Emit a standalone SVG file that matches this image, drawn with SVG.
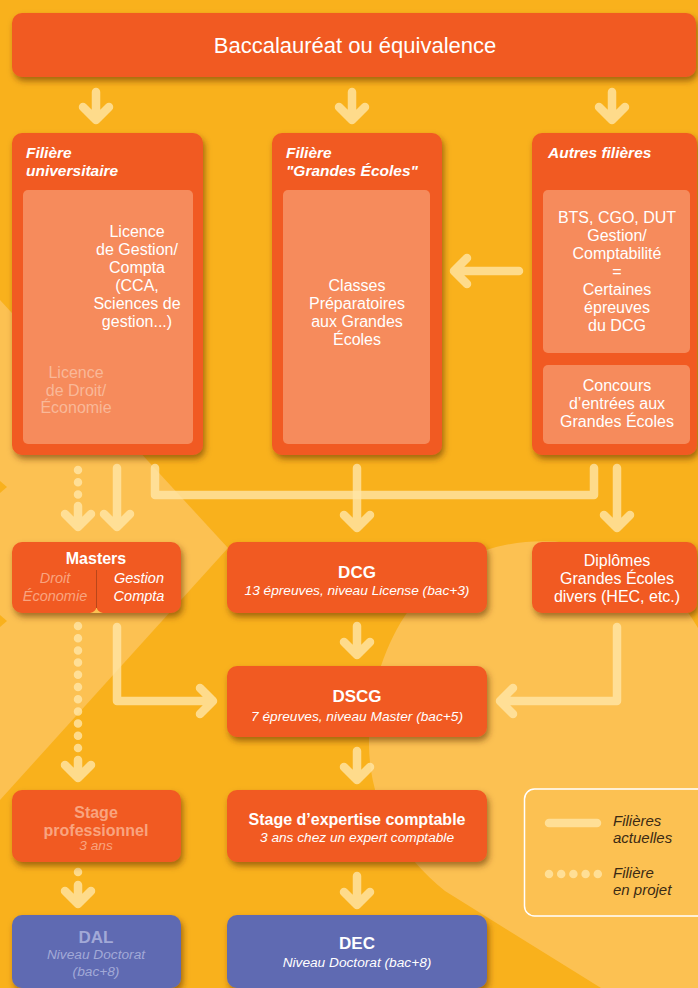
<svg xmlns="http://www.w3.org/2000/svg" width="698" height="988" viewBox="0 0 698 988">
<defs>
<filter id="sh" x="-10%" y="-15%" width="125%" height="145%">
<feDropShadow dx="2" dy="4" stdDeviation="3" flood-color="#5a2800" flood-opacity="0.55"/>
</filter>
<style>
.box{fill:#F15A22;filter:url(#sh)}
.blue{fill:#5E6BB2;filter:url(#sh)}
.panel{fill:#F68B5C}
text{font-family:"Liberation Sans",Arial,sans-serif;fill:#FFFFFF}
.c{text-anchor:middle}
.t{font-size:16px}
.b{font-weight:bold}
.i{font-style:italic}
.fo{fill:#F9A47F}
.fp{fill:#F9B898}
.fb{fill:#A2A9D7}
.lg{fill:#3B2A14;font-style:italic;font-size:15px}
.ar{fill:none;stroke:#FFE6A8;stroke-opacity:0.8;stroke-width:8.5;stroke-linecap:round;stroke-linejoin:round}
.dot{fill:none;stroke:#FFE6A8;stroke-opacity:0.8;stroke-width:8.5;stroke-linecap:round;stroke-dasharray:0 12.2}
</style>
</defs>
<rect width="698" height="988" fill="#F9B11C"/>
<g id="background">
<polygon points="0,300 228,548 0,800" fill="#FCC152"/>
<path d="M698,628 C660,560 580,530 505,545 C420,562 370,650 369,740 C368,800 395,850 445,891 L601,988 L698,988 Z" fill="#FCC152"/>
<polygon points="0,481 7,487 0,493" fill="#F9B11C"/>
<polygon points="0,615 7,621 0,627" fill="#F9B11C"/>
</g>
<g id="connectors">
<path class="ar" d="M96,92 V120 M83,107 L96,120 L109,107"/>
<path class="ar" d="M352,92 V120 M339,107 L352,120 L365,107"/>
<path class="ar" d="M612,92 V120 M599,107 L612,120 L625,107"/>
<path class="ar" d="M519,271 H454 M467,258 L454,271 L467,284"/>
<path class="dot" d="M78,470 V495"/>
<path class="ar" d="M78,506 V527 M65,514 L78,527 L91,514"/>
<path class="ar" d="M117,468 V527 M104,514 L117,527 L130,514"/>
<path class="ar" d="M155,468 V495 H594 V468"/>
<path class="ar" d="M357,468 V528 M344,515 L357,528 L370,515"/>
<path class="ar" d="M617,468 V528 M604,515 L617,528 L630,515"/>
<path class="dot" d="M78,626 V749"/>
<path class="ar" d="M78,760 V778 M65,765 L78,778 L91,765"/>
<path class="ar" d="M117,627 V701 H213 M200,688 L213,701 L200,714"/>
<path class="ar" d="M617,627 V701 H500 M513,688 L500,701 L513,714"/>
<path class="ar" d="M357,626 V655 M344,642 L357,655 L370,642"/>
<path class="ar" d="M357,751 V780 M344,767 L357,780 L370,767"/>
<path class="dot" d="M78,872 V873"/>
<path class="ar" d="M78,885 V904 M65,891 L78,904 L91,891"/>
<path class="ar" d="M357,876 V905 M344,892 L357,905 L370,892"/>
</g>
<g id="bac">
<rect class="box" x="12" y="13" width="684" height="64" rx="10"/>
<text class="c" x="355" y="53" font-size="22">Baccalauréat ou équivalence</text>
</g>
<g id="filiere-universitaire">
<rect class="box" x="12" y="133" width="191" height="322" rx="10"/>
<rect class="panel" x="23" y="190" width="170" height="254" rx="5"/>
<text class="b i" x="26" y="158" font-size="15.5">Filière</text>
<text class="b i" x="26" y="176" font-size="15.5">universitaire</text>
<text class="c t" x="137" y="237">Licence</text>
<text class="c t" x="137" y="255">de Gestion/</text>
<text class="c t" x="137" y="273">Compta</text>
<text class="c t" x="137" y="291">(CCA,</text>
<text class="c t" x="137" y="309">Sciences de</text>
<text class="c t" x="137" y="327">gestion...)</text>
<text class="c t fp" x="76" y="378">Licence</text>
<text class="c t fp" x="76" y="396">de Droit/</text>
<text class="c t fp" x="76" y="413">Économie</text>
</g>
<g id="filiere-grandes-ecoles">
<rect class="box" x="272" y="133" width="170" height="322" rx="10"/>
<rect class="panel" x="283" y="190" width="147" height="254" rx="5"/>
<text class="b i" x="286" y="158" font-size="15.5">Filière</text>
<text class="b i" x="286" y="176" font-size="15.5">"Grandes Écoles"</text>
<text class="c t" x="357" y="291">Classes</text>
<text class="c t" x="357" y="309">Préparatoires</text>
<text class="c t" x="357" y="327">aux Grandes</text>
<text class="c t" x="357" y="345">Écoles</text>
</g>
<g id="autres-filieres">
<rect class="box" x="532" y="133" width="165" height="322" rx="10"/>
<rect class="panel" x="543" y="190" width="147" height="163" rx="5"/>
<rect class="panel" x="543" y="365" width="147" height="79" rx="5"/>
<text class="b i" x="548" y="158" font-size="15.5">Autres filières</text>
<text class="c t" x="617" y="223">BTS, CGO, DUT</text>
<text class="c t" x="617" y="241">Gestion/</text>
<text class="c t" x="617" y="259">Comptabilité</text>
<text class="c t" x="617" y="277">=</text>
<text class="c t" x="617" y="295">Certaines</text>
<text class="c t" x="617" y="313">épreuves</text>
<text class="c t" x="617" y="331">du DCG</text>
<text class="c t" x="617" y="391">Concours</text>
<text class="c t" x="617" y="409">d’entrées aux</text>
<text class="c t" x="617" y="427">Grandes Écoles</text>
</g>
<g id="masters">
<rect class="box" x="12" y="542" width="169" height="71" rx="10"/>
<path d="M90,613 A7,7 0 0 0 96.5,606 A7,7 0 0 0 103,613 Z" fill="#FCC152"/>
<line x1="96.5" y1="570" x2="96.5" y2="608" stroke="#B9461A" stroke-width="1"/>
<text class="c b" x="96" y="564" font-size="16">Masters</text>
<text class="c i fo" x="55" y="583" font-size="14.5">Droit</text>
<text class="c i fo" x="55" y="601" font-size="14.5">Économie</text>
<text class="c i" x="139" y="583" font-size="14.5">Gestion</text>
<text class="c i" x="139" y="601" font-size="14.5">Compta</text>
</g>
<g id="dcg">
<rect class="box" x="227" y="542" width="260" height="71" rx="10"/>
<text class="c b" x="357" y="578" font-size="17">DCG</text>
<text class="c i" x="357" y="595" font-size="13.7">13 épreuves, niveau License (bac+3)</text>
</g>
<g id="diplomes">
<rect class="box" x="532" y="542" width="165" height="71" rx="10"/>
<text class="c t" x="617" y="566">Diplômes</text>
<text class="c t" x="617" y="584">Grandes Écoles</text>
<text class="c t" x="617" y="602">divers (HEC, etc.)</text>
</g>
<g id="dscg">
<rect class="box" x="227" y="666" width="260" height="71" rx="10"/>
<text class="c b" x="357" y="702" font-size="17">DSCG</text>
<text class="c i" x="357" y="721" font-size="13.7">7 épreuves, niveau Master (bac+5)</text>
</g>
<g id="stage-professionnel">
<rect class="box" x="12" y="790" width="169" height="72" rx="10"/>
<text class="c b fo" x="96" y="818" font-size="16">Stage</text>
<text class="c b fo" x="96" y="836" font-size="16">professionnel</text>
<text class="c i fo" x="96" y="850" font-size="13.7">3 ans</text>
</g>
<g id="stage-expertise">
<rect class="box" x="227" y="790" width="260" height="72" rx="10"/>
<text class="c b" x="357" y="825" font-size="16">Stage d’expertise comptable</text>
<text class="c i" x="357" y="842" font-size="13.7">3 ans chez un expert comptable</text>
</g>
<g id="dal">
<rect class="blue" x="12" y="915" width="169" height="73" rx="10"/>
<text class="c b fb" x="96" y="943" font-size="17">DAL</text>
<text class="c i fb" x="96" y="959" font-size="13.7">Niveau Doctorat</text>
<text class="c i fb" x="96" y="976" font-size="13.7">(bac+8)</text>
</g>
<g id="dec">
<rect class="blue" x="227" y="915" width="260" height="73" rx="10"/>
<text class="c b" x="357" y="949" font-size="17">DEC</text>
<text class="c i" x="357" y="967" font-size="13.7">Niveau Doctorat (bac+8)</text>
</g>
<g id="legend">
<rect x="524.5" y="789" width="185" height="127" rx="10" fill="#FCC152" stroke="#FFFFFF" stroke-width="1.5"/>
<line class="ar" x1="549" y1="823" x2="597" y2="823"/>
<line class="dot" x1="549" y1="874" x2="598" y2="874"/>
<text class="lg" x="613" y="826">Filières</text>
<text class="lg" x="613" y="843">actuelles</text>
<text class="lg" x="613" y="878">Filière</text>
<text class="lg" x="613" y="895">en projet</text>
</g>
</svg>
